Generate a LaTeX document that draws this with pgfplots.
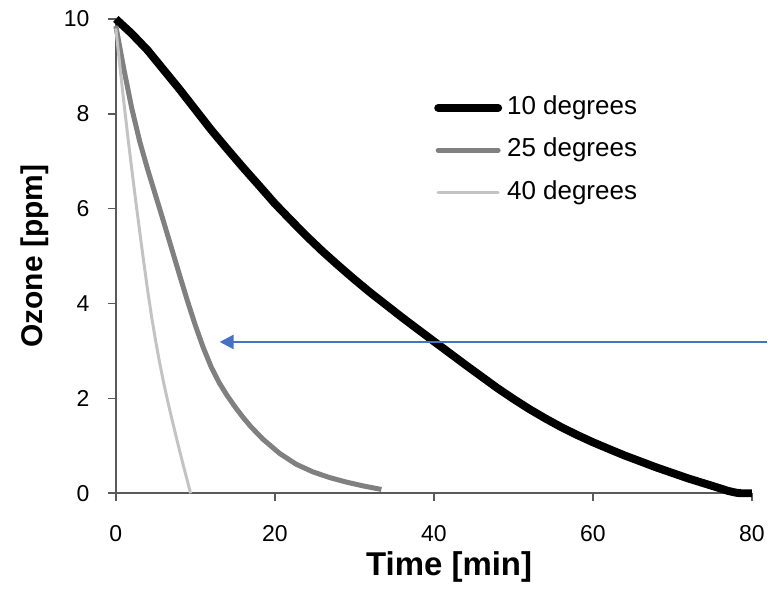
\documentclass[border=0pt]{standalone}
\usepackage{fontspec}
\setmainfont{Liberation Sans}
\usepackage{pgfplots}
\pgfplotsset{compat=1.18}
\usetikzlibrary{arrows.meta}

\definecolor{axisgray}{RGB}{90,90,90}
\definecolor{midgray}{RGB}{128,128,128}
\definecolor{palegray}{RGB}{195,195,195}
\definecolor{arrowblue}{RGB}{68,114,196}

\begin{document}
\begin{tikzpicture}
\begin{axis}[
    scale only axis,
    width=318.5pt, height=237.5pt,
    xmin=0, xmax=80, ymin=0, ymax=10,
    axis x line=bottom, axis y line=left,
    axis line style={-, draw=axisgray, line width=0.75pt},
    xtick={0,20,...,80}, ytick={0,2,...,10},
    tick align=outside,
    major tick length=4pt,
    tick style={draw=axisgray, line width=0.75pt},
    tick label style={font=\fontsize{11.5}{13}\selectfont},
    /pgf/number format/assume math mode=true,
    xticklabel style={anchor=base, inner sep=0pt, yshift=-20pt},
    yticklabel style={anchor=east, inner sep=0pt, xshift=-9pt},
    xlabel={Time [min]},
    ylabel={Ozone [ppm]},
    xlabel style={font=\bfseries\fontsize{16.5}{19}\selectfont,
        at={(axis description cs:0.524,-0.1726)}, anchor=base},
    ylabel style={font=\bfseries\fontsize{15}{18}\selectfont,
        at={(axis description cs:-0.1146,0.5)}, anchor=base},
    clip=false,
    legend image code/.code={\draw[#1, line cap=round] (2pt,0pt) -- (32pt,0pt);},
    legend style={draw=none, fill=none, at={(axis cs:40,7.23)}, anchor=west,
        inner sep=0pt, row sep=9.75pt, column sep=2.5pt,
        nodes={inner sep=0pt, text height=9pt, text depth=2.5pt,
            font=\fontsize{13}{15}\selectfont}},
    legend cell align=left,
]
% 10 degrees
\addplot[black, line width=4pt, line join=round] coordinates {
    (0,10) (2,9.69) (4,9.34) (6,8.93) (8,8.52) (10,8.09) (12,7.66)
    (14,7.26) (16,6.868) (18,6.49) (20,6.108) (22,5.76) (24,5.42)
    (26,5.10) (28,4.80) (30,4.51) (32,4.232) (34,3.97) (36,3.708)
    (38,3.455) (40,3.204) (42,2.954) (44,2.704) (46,2.46) (48,2.216)
    (50,1.99) (52,1.776) (54,1.58) (56,1.396) (58,1.23) (60,1.076)
    (62,0.935) (64,0.796) (66,0.67) (68,0.544) (70,0.428) (72,0.312)
    (74,0.208) (76,0.104) (77,0.05) (78,0.012) (78.6,0) (80,0)
};
\addlegendentry{10 degrees}
% 25 degrees
\addplot[midgray, line width=2.5pt, line join=round] coordinates {
    (0,9.85) (1,8.95) (2,8.12) (3,7.42) (4,6.83) (5,6.28) (6,5.73)
    (7,5.17) (8,4.61) (9,4.06) (10,3.54) (11,3.07) (12,2.66) (13,2.33)
    (14,2.06) (15,1.82) (16,1.60) (17,1.40) (18.5,1.14) (20.6,0.84)
    (22.7,0.61) (24.8,0.45) (26.9,0.33) (29,0.235) (31.1,0.155) (33.4,0.08)
};
\addlegendentry{25 degrees}
% 40 degrees
\addplot[palegray, line width=1.5pt, line join=round] coordinates {
    (0,9.8) (0.5,9.02) (1,8.26) (1.5,7.53) (2,6.84) (2.5,6.17) (3,5.52)
    (3.5,4.89) (4,4.28) (4.5,3.72) (5,3.22) (5.5,2.76) (6,2.34)
    (6.5,1.96) (7,1.6) (7.5,1.25) (8,0.91) (8.5,0.58) (9,0.26) (9.4,0)
};
\addlegendentry{40 degrees}

\draw[arrowblue, line width=1.2pt, -{Triangle[length=7pt,width=7pt]}]
    (axis cs:81.88,3.19) -- (axis cs:13.06,3.19);
\path (axis cs:-14.57,-1.916) rectangle (axis cs:81.88,10.4);
\end{axis}
\end{tikzpicture}
\end{document}
